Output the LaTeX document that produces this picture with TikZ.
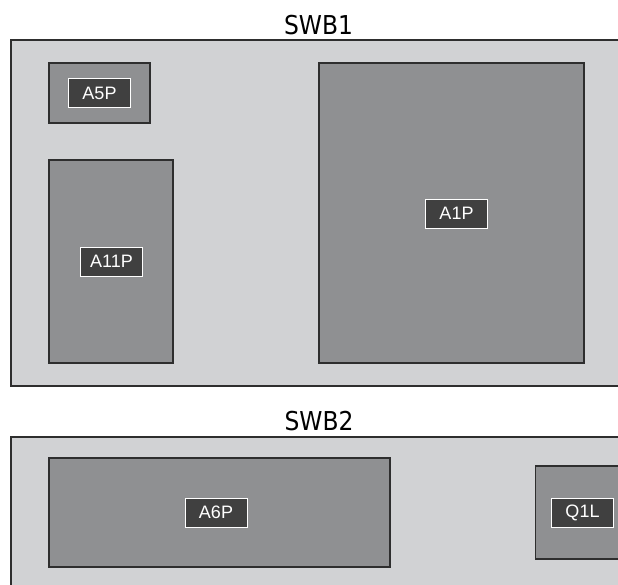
\documentclass[tikz,border=0pt]{standalone}
\usepackage{fontspec}
\setmainfont{Liberation Sans}
\newfontfamily\titlefont[FakeStretch=0.9]{DejaVu Sans}
\definecolor{panelgray}{HTML}{D1D2D4}
\definecolor{devgray}{HTML}{8F9092}
\definecolor{labelgray}{HTML}{404040}
\definecolor{edgedark}{HTML}{2E2E2E}
\tikzset{
  x=1pt, y=-1pt,
  panel/.style={draw=edgedark, line width=1.8pt, fill=panelgray},
  device/.style={draw=edgedark, line width=1.4pt, fill=devgray, inner sep=0pt, outer sep=0pt},
  tag/.style={draw=white, line width=1pt, fill=labelgray, text=white, font=\fontsize{18}{20}\selectfont,
              minimum width=62pt, minimum height=29pt, inner sep=0pt},
  paneltitle/.style={font=\titlefont\fontsize{26}{28}\selectfont, anchor=base, inner sep=0pt}
}
\newcommand{\devbox}[5]{% name, x1, y1, x2, y2
  \node[device, minimum width={#4-#2}, minimum height={#5-#3}] (#1) at ({(#2+#4)/2},{(#3+#5)/2}) {};}
\begin{document}
\begin{tikzpicture}
\clip (0,0) rectangle (618,584);
\fill[white] (0,0) rectangle (618,584);
% SWB1 panel
\node[paneltitle] (t1) at (318.5,34) {SWB1};
\node[panel, minimum width=630pt, minimum height=346pt, inner sep=0pt] (swb1) at (325.8,213) {};
\devbox{a5}{49}{63}{150}{123}
\devbox{a11}{49}{160}{173}{363}
\devbox{a1}{319}{63}{584}{363}
\node[tag] (la5) at (99.5,93) {A5P};
\node[tag] (la11) at (111.5,261.5) {A11P};
\node[tag] (la1) at (456.5,213.5) {A1P};
% SWB2 panel
\node[paneltitle] (t2) at (319,430) {SWB2};
\node[panel, minimum width=630pt, minimum height=200pt, inner sep=0pt] (swb2) at (325.8,537) {};
\devbox{a6}{49}{458}{390}{567}
\devbox{q1}{535.5}{466}{640}{559}
\node[tag] (la6) at (216,512.5) {A6P};
\node[tag] (lq1) at (582.5,513) {Q1L};
\end{tikzpicture}
\end{document}
